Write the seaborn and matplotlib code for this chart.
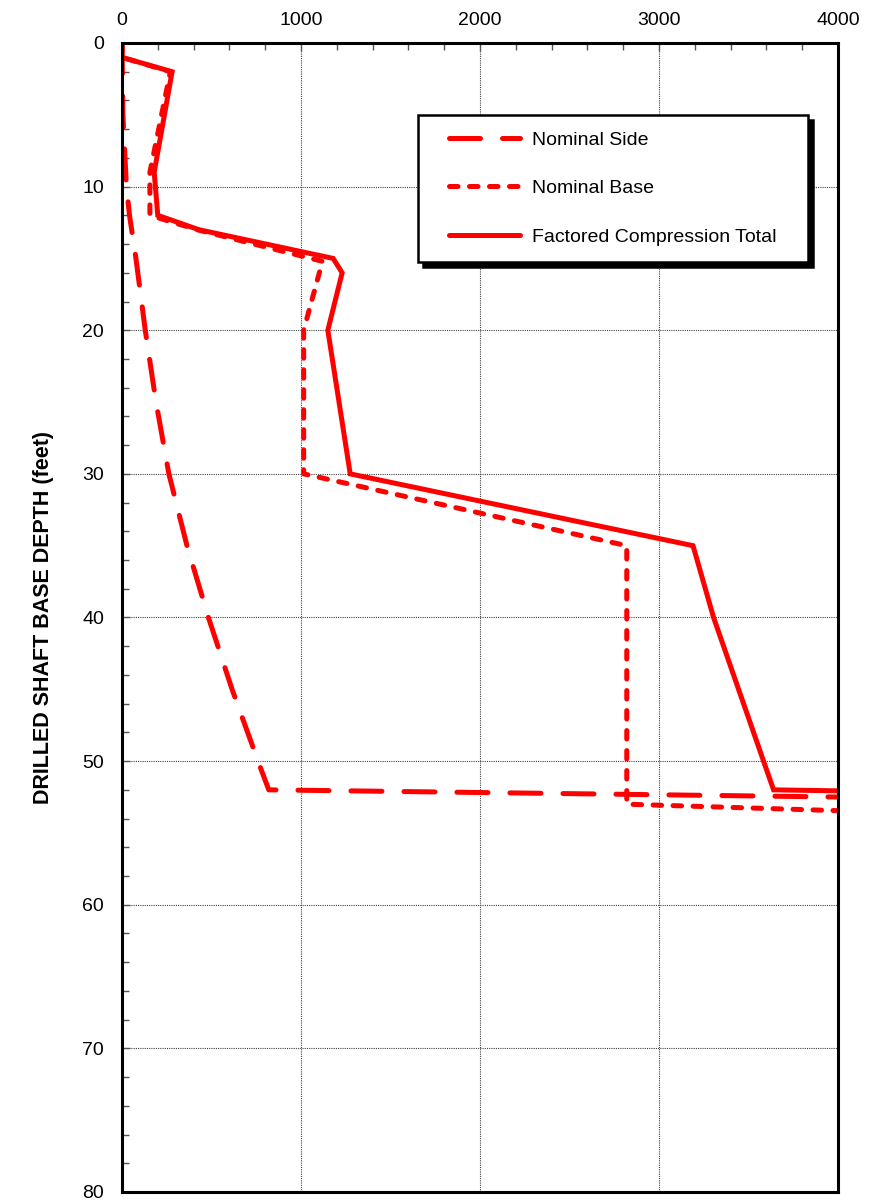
import matplotlib

matplotlib.use("Agg")

import matplotlib.pyplot as plt
import pandas as pd
import seaborn as sns
from matplotlib.legend_handler import HandlerLine2D
from matplotlib.lines import Line2D
from matplotlib.ticker import MultipleLocator


# depth (feet) / capacity pairs
SIDE_DEPTH = [0, 5, 10, 12, 15, 20, 25, 30, 35, 40, 45, 50, 52, 52.5]
SIDE_LOAD = [0, 5, 25, 42, 78, 130, 190, 262, 363, 483, 615, 760, 820, 4000]

BASE_DEPTH = [0, 1, 2, 9, 12, 13, 15.2, 20, 30, 35, 53, 53.45]
BASE_LOAD = [0, 0, 270, 156, 156, 420, 1120, 1015, 1015, 2820, 2820, 4000]

TOTAL_DEPTH = [0, 1, 2, 9, 12, 13, 15, 16, 20, 30, 35, 40, 52, 52.07]
TOTAL_LOAD = [0, 0, 280, 180, 200, 430, 1180, 1230, 1150, 1275, 3190, 3305, 3640, 4000]

X_TICKS = [0, 1000, 2000, 3000, 4000]
Y_TICKS = [0, 10, 20, 30, 40, 50, 60, 70, 80]

RED = "#ff0000"


def main() -> None:
    sns.set_style("white")
    plt.rcParams["font.family"] = ["Liberation Sans", "DejaVu Sans"]
    plt.rcParams["text.color"] = "black"
    plt.rcParams["axes.labelcolor"] = "black"

    fig = plt.figure(figsize=(8.82, 12.01), dpi=100)
    ax = fig.add_axes([0.1383, 0.0075, 0.8118, 0.9567])

    side = pd.DataFrame({"load": SIDE_LOAD, "depth": SIDE_DEPTH})
    base = pd.DataFrame({"load": BASE_LOAD, "depth": BASE_DEPTH})
    total = pd.DataFrame({"load": TOTAL_LOAD, "depth": TOTAL_DEPTH})

    lw = 3.6
    sns.lineplot(data=side, x="load", y="depth", sort=False, estimator=None, ax=ax,
                 color=RED, lw=lw, linestyle=(0, (6.2, 4.4)), dash_capstyle="round",
                 label="Nominal Side", zorder=3)
    sns.lineplot(data=base, x="load", y="depth", sort=False, estimator=None, ax=ax,
                 color=RED, lw=lw, linestyle=(0, (1.7, 2.3)), dash_capstyle="round",
                 label="Nominal Base", zorder=3)
    sns.lineplot(data=total, x="load", y="depth", sort=False, estimator=None, ax=ax,
                 color=RED, lw=lw, solid_capstyle="round", solid_joinstyle="miter",
                 label="Factored Compression Total", zorder=3)

    ax.set_xlim(0, 4000)
    ax.set_ylim(80, 0)
    ax.xaxis.tick_top()
    ax.set_xticks(X_TICKS)
    ax.set_yticks(Y_TICKS)
    ax.xaxis.set_minor_locator(MultipleLocator(200))
    ax.yaxis.set_minor_locator(MultipleLocator(2))
    ax.tick_params(which="major", direction="in", length=6, width=1, color="#555555",
                   labelsize=14, labelcolor="black")
    ax.tick_params(which="minor", direction="in", length=5, width=1, color="#555555")
    ax.tick_params(axis="x", which="both", top=True, bottom=False, pad=10)
    ax.tick_params(axis="y", which="both", left=True, right=False, pad=13)
    ax.grid(which="major", color="#444444", linestyle=(0, (1, 1)), linewidth=0.8)
    for spine in ax.spines.values():
        spine.set_color("black")
        spine.set_linewidth(2.2)
        spine.set_zorder(4)

    ax.set_xlabel("")
    ax.set_ylabel("DRILLED SHAFT BASE DEPTH (feet)", fontsize=15.5, fontweight="bold",
                  labelpad=20, color="black")

    leg = ax.legend(loc="upper left", bbox_to_anchor=(0.4134, 0.809, 0.5447, 0.128),
                    mode="expand", fontsize=14,
                    frameon=True, fancybox=False, framealpha=1, edgecolor="black",
                    shadow={"ox": 3.6, "oy": -3.6, "color": "black", "alpha": 1},
                    borderpad=0.8, labelspacing=1.6, handlelength=4.45,
                    handletextpad=0.62, borderaxespad=0,
                    handler_map={Line2D: HandlerLine2D(xpad=0.8)})
    leg.get_frame().set_linewidth(1.8)
    leg.set_zorder(5)
    for text in leg.get_texts():
        text.set_color("black")

    fig.savefig("out.png", dpi=100)
    plt.close(fig)


if __name__ == "__main__":
    main()
